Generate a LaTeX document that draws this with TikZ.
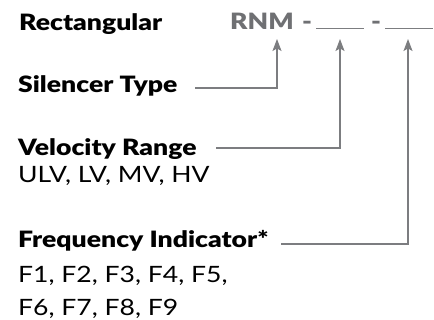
\documentclass[tikz,border=0pt]{standalone}
\usepackage{fontspec}
\setmainfont{Lato}[BoldFont={Lato Black}, FakeStretch=1.18]
\usetikzlibrary{arrows.meta}
\definecolor{codegray}{HTML}{6F7073}
\definecolor{linegray}{HTML}{7C7D80}
\tikzset{
  title/.style={anchor=base west, inner sep=0pt, font=\fontsize{22.5}{26}\selectfont\bfseries},
  plain/.style={anchor=base west, inner sep=0pt, font=\fontsize{22.5}{26}\selectfont},
  code/.style={inner sep=0pt, text=codegray, font=\fontsize{22.5}{26}\selectfont\bfseries},
  blank/.style={draw=none, inner sep=0pt, minimum height=0pt, anchor=south west},
  lead/.style={draw=linegray, line width=1.2pt, -{Stealth[length=12pt,width=9pt,inset=2.5pt]}},
  rule/.style={draw=linegray, line width=1.1pt},
}
\begin{document}
\begin{tikzpicture}[x=1pt,y=-1pt]
  \useasboundingbox (0,0) rectangle (434,320);

  % model code
  \node[title] (rect) at (19,31) {Rectangular};
  \node[code, anchor=base east] (rnm) at (294,30) {RNM};
  \node[code, anchor=base west] (d1) at (302,30) {-};
  \node[code, anchor=base west] (d2) at (371,30) {-};
  \node[blank, minimum width=48pt] (b1) at (316,28.3) {};
  \node[blank, minimum width=48pt] (b2) at (385,28.3) {};
  \draw[rule] (b1.south west) -- (b1.south east);
  \draw[rule] (b2.south west) -- (b2.south east);

  % arrow tips under each field
  \coordinate (t1) at (277,39);
  \coordinate (t2) at (340,39);
  \coordinate (t3) at (408,39);

  % field labels
  \node[title] (sil) at (18,93) {Silencer Type};
  \node[title] (vel) at (18,155.7) {Velocity Range};
  \node[plain] (velv) at (18,182.7) {ULV, LV, MV, HV};
  \node[title] (frq) at (18,247.3) {Frequency Indicator*};
  \node[plain] (frqa) at (18,283) {F1, F2, F3, F4, F5,};
  \node[plain] (frqb) at (18,316) {F6, F7, F8, F9};

  % leader starts
  \coordinate (s1) at (195,88);
  \coordinate (s2) at (216,148);
  \coordinate (s3) at (281,244);

  \draw[lead] (s1) -| (t1);
  \draw[lead] (s2) -| (t2);
  \draw[lead] (s3) -| (t3);
\end{tikzpicture}
\end{document}
